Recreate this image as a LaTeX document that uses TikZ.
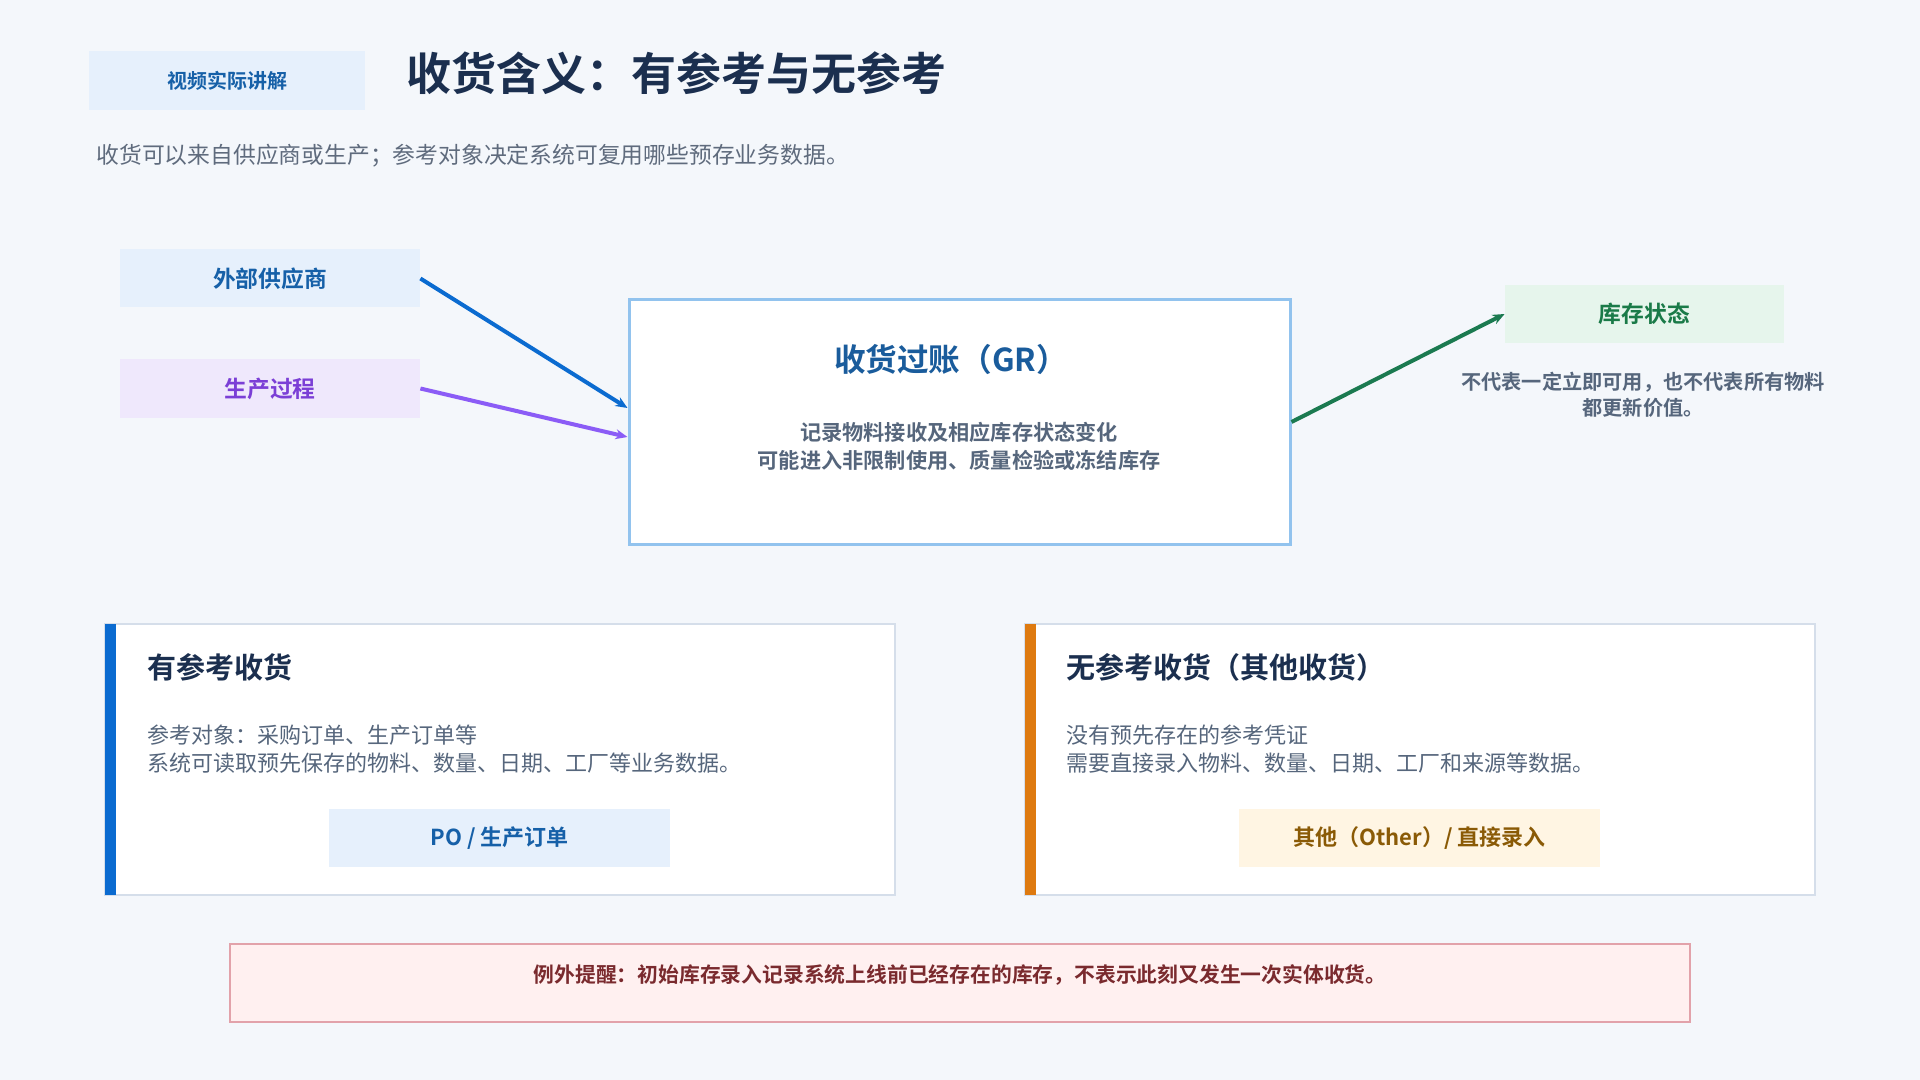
\documentclass[tikz,border=0pt]{standalone}
\usepackage{fontspec}
\setmainfont{Noto Sans CJK SC}[BoldFont={Noto Sans CJK SC Bold}]
\usepackage{xcolor}
\usepackage{tikz}
\usetikzlibrary{arrows.meta,positioning}

\definecolor{pagebg}{HTML}{F4F7FB}
\definecolor{navy}{HTML}{1B2F4F}
\definecolor{greytxt}{HTML}{5F6B7D}
\definecolor{bodytxt}{HTML}{56667C}
\definecolor{blueacc}{HTML}{0B6BD0}
\definecolor{bluefill}{HTML}{E6F0FC}
\definecolor{bluetxt}{HTML}{1660A8}
\definecolor{purpacc}{HTML}{8B5CF6}
\definecolor{purpfill}{HTML}{EFE8FC}
\definecolor{purptxt}{HTML}{7B3FD6}
\definecolor{greenacc}{HTML}{1B7A50}
\definecolor{greenfill}{HTML}{E6F5EC}
\definecolor{greentxt}{HTML}{1A7A48}
\definecolor{grborder}{HTML}{92C3EE}
\definecolor{grtxt}{HTML}{1A5C9C}
\definecolor{panelline}{HTML}{D5DEEA}
\definecolor{orangeacc}{HTML}{DE7A10}
\definecolor{creamfill}{HTML}{FFF5E3}
\definecolor{browntxt}{HTML}{8A5A06}
\definecolor{warnfill}{HTML}{FFF0F0}
\definecolor{warnline}{HTML}{E2A2AA}
\definecolor{warntxt}{HTML}{7A2A2E}

\begin{document}
\begin{tikzpicture}[
    x=0.5pt, y=-0.5pt,
    >=Stealth,
    box/.style={fill=#1, inner sep=0pt, minimum width=150pt, minimum height=29pt,
                font=\bfseries\fontsize{11.4pt}{14pt}\selectfont},
    box/.default=bluefill,
    panel/.style={draw=panelline, line width=1pt, fill=white, inner sep=0pt,
                  minimum width=395pt, minimum height=135.5pt},
    head/.style={anchor=west, inner sep=0pt, text=navy,
                 font=\bfseries\fontsize{14.5pt}{17pt}\selectfont},
    body/.style={anchor=west, align=left, inner sep=0pt, text=bodytxt,
                 font=\fontsize{11pt}{14pt}\selectfont},
    btn/.style={fill=#1, inner sep=0pt, minimum height=29pt,
                font=\bfseries\fontsize{11pt}{13pt}\selectfont},
    arr/.style={->, line width=2pt, color=#1,
                arrows={-Stealth[length=6pt, width=5pt]}},
  ]
  \fill[pagebg] (0,0) rectangle (1920,1080);

  % Header
  \node[box, minimum width=138pt, minimum height=29.5pt, text=bluetxt,
        font=\bfseries\fontsize{10pt}{12pt}\selectfont] (tag) at (227,80.5) {视频实际讲解};
  \node[anchor=west, inner sep=0pt, text=navy,
        font=\bfseries\fontsize{22.5pt}{26pt}\selectfont] (title) at (406,73)
    {收货含义：有参考与无参考};
  \node[anchor=west, inner sep=0pt, text=greytxt,
        font=\fontsize{11.4pt}{14pt}\selectfont] (sub) at (96,156)
    {收货可以来自供应商或生产；参考对象决定系统可复用哪些预存业务数据。};

  % Sources
  \node[box, text=bluetxt] (sup) at (270,278.5) {外部供应商};
  \node[box=purpfill, text=purptxt] (prd) at (270,388.5) {生产过程};

  % Goods receipt
  \node[draw=grborder, line width=1.5pt, fill=white, minimum width=330.5pt,
        minimum height=122pt, inner sep=0pt] (gr) at (959.5,422) {};
  \node[text=grtxt, inner sep=0pt,
        font=\bfseries\fontsize{15.8pt}{18pt}\selectfont] (grt) at (951,359) {收货过账（GR）};
  \node[align=center, text=bodytxt, inner sep=0pt,
        font=\bfseries\fontsize{10.6pt}{14pt}\selectfont] (grb) at (959,446)
    {记录物料接收及相应库存状态变化\\可能进入非限制使用、质量检验或冻结库存};

  % Stock
  \node[box=greenfill, text=greentxt, minimum width=139.5pt] (stk) at (1644.5,314) {库存状态};
  \node[align=center, text=bodytxt, inner sep=0pt,
        font=\bfseries\fontsize{10.1pt}{13pt}\selectfont] (stkn) at (1643,395)
    {不代表一定立即可用，也不代表所有物料\\都更新价值。};

  \draw[arr=blueacc] (sup.east) -- ([yshift=7pt]gr.west);
  \draw[arr=purpacc] (prd.east) -- ([yshift=-7.5pt]gr.west);
  \draw[arr=greenacc] (gr.east) -- (stk.west);

  % With reference
  \node[panel] (refp) at (500,759.5) {};
  \fill[blueacc] (105,624) rectangle (116,895);
  \node[head] (reft) at (147,667) {有参考收货};
  \node[body] (refb) at (147,749)
    {参考对象：采购订单、生产订单等\\系统可读取预先保存的物料、数量、日期、工厂等业务数据。};
  \node[btn=bluefill, text=bluetxt, minimum width=170.5pt] (refk) at (499.5,838) {PO / 生产订单};

  % Without reference
  \node[panel] (nrefp) at (1420,759.5) {};
  \fill[orangeacc] (1025,624) rectangle (1036,895);
  \node[head] (nreft) at (1066,667) {无参考收货（其他收货）};
  \node[body] (nrefb) at (1066,749)
    {没有预先存在的参考凭证\\需要直接录入物料、数量、日期、工厂和来源等数据。};
  \node[btn=creamfill, text=browntxt, minimum width=180.5pt] (nrefk) at (1419.5,838)
    {其他（Other）/ 直接录入};

  % Warning
  \node[draw=warnline, line width=1.2pt, fill=warnfill, minimum width=730pt,
        minimum height=39pt, inner sep=0pt] (warn) at (960,983) {};
  \node[text=warntxt, inner sep=0pt,
        font=\bfseries\fontsize{10.4pt}{12pt}\selectfont] (warnt) at (960,975)
    {例外提醒：初始库存录入记录系统上线前已经存在的库存，不表示此刻又发生一次实体收货。};
\end{tikzpicture}
\end{document}
